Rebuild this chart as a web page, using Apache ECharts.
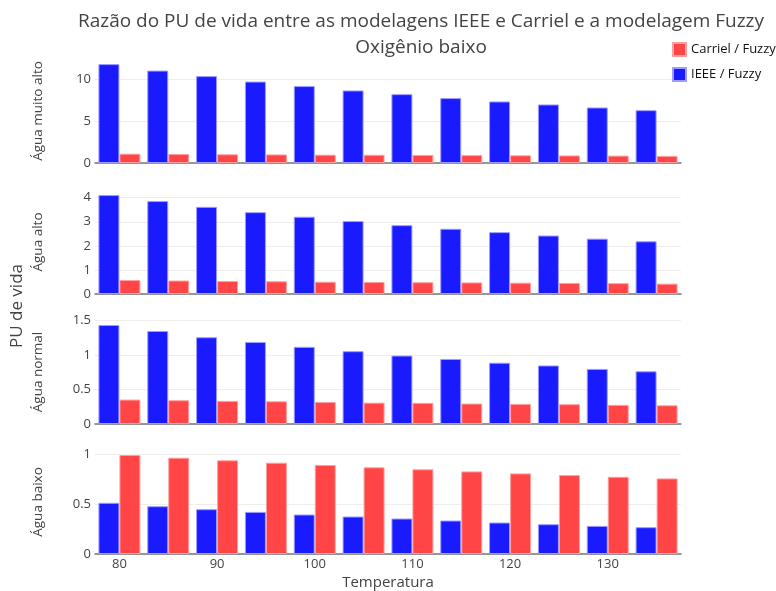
<!DOCTYPE html>
<html>
<head>
<meta charset="utf-8">
<script src="https://cdn.jsdelivr.net/npm/echarts@6/dist/echarts.min.js"></script>
<style>
    html, body { margin: 0; padding: 0; background: #fff; }
    #main { width: 776px; height: 591px; }
</style>
</head>
<body>
<div id="main"></div>
<script>
// temperaturas (eixo x)
var temperaturas = ['80', '85', '90', '95', '100', '105', '110', '115', '120', '125', '130', '135'];

// Água muito alto
var ieeeMuitoAlto = [11.79, 11.02, 10.36, 9.71, 9.17, 8.65, 8.21, 7.74, 7.34, 6.98, 6.62, 6.30];
var carrielMuitoAlto = [1.11, 1.07, 1.04, 1.02, 0.99, 0.98, 0.96, 0.94, 0.92, 0.90, 0.88, 0.85];
// Água alto
var ieeeAlto = [4.11, 3.86, 3.62, 3.40, 3.21, 3.03, 2.86, 2.71, 2.57, 2.43, 2.30, 2.19];
var carrielAlto = [0.58, 0.56, 0.54, 0.53, 0.51, 0.50, 0.49, 0.48, 0.47, 0.46, 0.45, 0.43];
// Água normal
var ieeeNormal = [1.437, 1.35, 1.26, 1.19, 1.12, 1.057, 0.994, 0.944, 0.89, 0.85, 0.80, 0.765];
var carrielNormal = [0.355, 0.345, 0.336, 0.33, 0.32, 0.31, 0.307, 0.297, 0.292, 0.287, 0.278, 0.272];
// Água baixo
var ieeeBaixo = [0.512, 0.478, 0.448, 0.421, 0.395, 0.375, 0.355, 0.335, 0.315, 0.298, 0.281, 0.268];
var carrielBaixo = [0.99, 0.963, 0.937, 0.913, 0.89, 0.867, 0.847, 0.826, 0.806, 0.789, 0.772, 0.756];

var nomesY = ['Água muito alto', 'Água alto', 'Água normal', 'Água baixo'];
var maxY = [12.4, 4.32, 1.51, 1.04];
var passoY = [5, 1, 0.5, 0.5];
var ieeeDados = [ieeeMuitoAlto, ieeeAlto, ieeeNormal, ieeeBaixo];
var carrielDados = [carrielMuitoAlto, carrielAlto, carrielNormal, carrielBaixo];

var fonte = '"Open Sans", sans-serif';
var corTexto = '#444';
var topos = [59, 190, 320, 450];

var myChart = echarts.init(document.getElementById('main'));

var grids = [], xAxes = [], yAxes = [], series = [];
for (var i = 0; i < 4; i++) {
    grids.push({ left: 95, right: 95, top: topos[i], height: 104, outerBoundsMode: 'none' });
    xAxes.push({
        type: 'category',
        gridIndex: i,
        data: temperaturas,
        axisTick: { show: false },
        axisLine: { lineStyle: { color: '#777', width: 1.5 } },
        axisLabel: {
            show: i === 3,
            interval: 1,
            color: corTexto,
            fontFamily: fonte,
            fontSize: 13,
            margin: 4
        },
        name: i === 3 ? 'Temperatura' : '',
        nameLocation: 'middle',
        nameGap: 21,
        nameTextStyle: { color: corTexto, fontFamily: fonte, fontSize: 15 }
    });
    yAxes.push({
        type: 'value',
        gridIndex: i,
        min: 0,
        max: maxY[i],
        interval: passoY[i],
        name: nomesY[i],
        nameLocation: 'middle',
        nameGap: 50,
        nameRotate: 90,
        nameTextStyle: { color: corTexto, fontFamily: fonte, fontSize: 13.5 },
        axisLine: { show: false },
        axisTick: { show: false },
        axisLabel: {
            color: corTexto,
            fontFamily: fonte,
            fontSize: 13,
            showMaxLabel: false,
            margin: 4
        },
        splitLine: { showMaxLine: false, lineStyle: { color: '#eeeeee' } }
    });
    series.push({
        name: 'IEEE / Fuzzy',
        type: 'bar',
        xAxisIndex: i,
        yAxisIndex: i,
        data: ieeeDados[i],
        barGap: '0%',
        barCategoryGap: '14%',
        itemStyle: { color: '#1a1aff', borderColor: '#9d9dff', borderWidth: 1 }
    });
    series.push({
        name: 'Carriel / Fuzzy',
        type: 'bar',
        xAxisIndex: i,
        yAxisIndex: i,
        data: carrielDados[i],
        barGap: '0%',
        barCategoryGap: '14%',
        itemStyle: { color: '#ff4545', borderColor: '#ffa0a0', borderWidth: 1 }
    });
}

var option = {
    animation: false,
    title: {
        text: 'Razão do PU de vida entre as modelagens IEEE e Carriel e a modelagem Fuzzy\nOxigênio baixo',
        left: 416,
        textAlign: 'center',
        top: 4,
        textStyle: { color: corTexto, fontFamily: fonte, fontSize: 19, fontWeight: 'normal', lineHeight: 26 }
    },
    legend: {
        orient: 'vertical',
        left: 667,
        top: 37,
        itemWidth: 13,
        itemHeight: 13,
        itemGap: 10,
        icon: 'rect',
        data: ['Carriel / Fuzzy', 'IEEE / Fuzzy'],
        textStyle: { color: '#111', fontFamily: fonte, fontSize: 13 }
    },
    graphic: [{
        type: 'text',
        left: 9,
        top: 264,
        rotation: Math.PI / 2,
        style: { text: 'PU de vida', fill: corTexto, font: '17px "Open Sans", sans-serif' }
    }],
    grid: grids,
    xAxis: xAxes,
    yAxis: yAxes,
    series: series
};
myChart.setOption(option);
</script>
</body>
</html>
